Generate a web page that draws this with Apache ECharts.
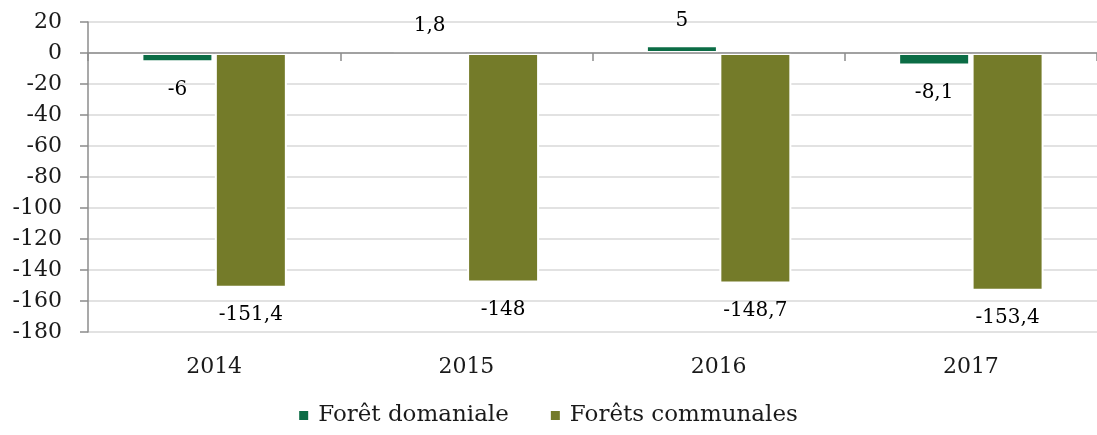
<!DOCTYPE html>
<html>
<head>
<meta charset="utf-8">
<script src="https://cdn.jsdelivr.net/npm/echarts@6/dist/echarts.min.js"></script>
<style>
  html, body { margin: 0; padding: 0; background: #fff; }
  #chart { width: 1097px; height: 435px; }
</style>
</head>
<body>
<div id="chart"></div>
<script>
var years = ['2014', '2015', '2016', '2017'];
var domaniale = [-6, 1.8, 5, -8.1];
var communales = [-151.4, -148, -148.7, -153.4];
var seriesNames = ['Forêt domaniale', 'Forêts communales'];

var font = 'DejaVu Serif';

// label goes past the end of the bar, above or below depending on sign
function withLabels (values) {
  return values.map(function (v) {
    return {
      value: v,
      label: v >= 0 ? { position: 'top', distance: 14 } : { position: 'bottom', distance: 17 }
    };
  });
}

function fmt (p) {
  return String(p.value).replace('.', ',');
}

var myChart = echarts.init(document.getElementById('chart'));
myChart.setOption({
  animation: false,
  grid: { left: 88, right: -8, top: 22, bottom: 103 },
  legend: {
    bottom: 3,
    left: 'center',
    itemWidth: 9,
    itemHeight: 9,
    itemGap: 42,
    icon: 'rect',
    itemStyle: { borderWidth: 0 },
    textStyle: { fontFamily: font, fontSize: 23, color: '#1a1a1a', padding: [0, 0, 0, 5] },
    data: seriesNames
  },
  xAxis: [
    {
      type: 'category',
      data: years,
      position: 'bottom',
      axisLine: { show: false, onZero: false },
      axisTick: { show: false },
      axisLabel: { fontFamily: font, fontSize: 22, color: '#1a1a1a', margin: 24 }
    },
    {
      type: 'category',
      data: years,
      position: 'bottom',
      z: 5,
      axisLine: { show: true, onZero: true, lineStyle: { color: '#8c8c8c', width: 1.5 } },
      axisTick: { show: true, length: 8, lineStyle: { color: '#8c8c8c', width: 1.5 } },
      axisLabel: { show: false }
    }
  ],
  yAxis: {
    type: 'value',
    min: -180,
    max: 20,
    interval: 20,
    axisLine: { show: true, lineStyle: { color: '#8c8c8c', width: 1.5 } },
    axisTick: { show: true, length: 8, lineStyle: { color: '#8c8c8c', width: 1.5 } },
    axisLabel: { fontFamily: font, fontSize: 22, color: '#1a1a1a', margin: 26 },
    splitLine: { lineStyle: { color: '#d9d9d9', width: 1.5 } }
  },
  series: [
    {
      name: seriesNames[0],
      type: 'bar',
      data: withLabels(domaniale),
      barWidth: 72,
      barGap: '2%',
      itemStyle: { color: '#0b6c45', borderColor: '#fff', borderWidth: 2 },
      label: { show: true, fontFamily: font, fontSize: 20, color: '#000', formatter: fmt }
    },
    {
      name: seriesNames[1],
      type: 'bar',
      data: withLabels(communales),
      barWidth: 72,
      barGap: '2%',
      itemStyle: { color: '#747b29', borderColor: '#fff', borderWidth: 2 },
      label: { show: true, fontFamily: font, fontSize: 20, color: '#000', formatter: fmt }
    }
  ]
});
</script>
</body>
</html>
